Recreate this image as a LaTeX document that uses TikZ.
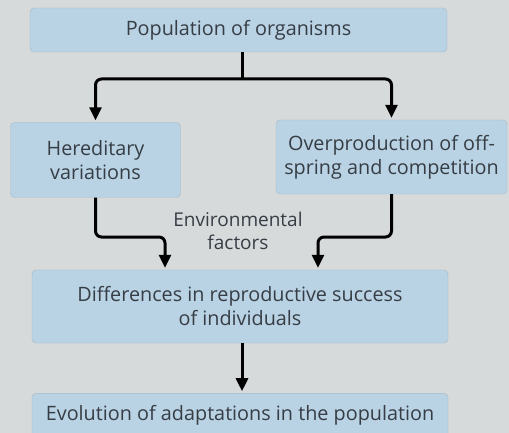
\documentclass[tikz,border=0pt]{standalone}
\usepackage{fontspec}
\setmainfont{Open Sans}
\usetikzlibrary{arrows.meta, positioning}
\definecolor{paper}{HTML}{D7DADB}
\definecolor{boxblue}{HTML}{B9D3E4}
\definecolor{boxedge}{HTML}{A4B8C6}
\definecolor{inkgrey}{HTML}{363D45}

\begin{document}
\begin{tikzpicture}[
    x=1pt, y=-1pt,
    node distance=50pt,
    box/.style={rectangle, draw=boxedge, fill=boxblue, rounded corners=4pt, text=inkgrey, align=center, font=\fontsize{19.8}{24}\selectfont},
    arrow/.style={-{Triangle[length=13pt, width=12pt]}, line width=3pt, rounded corners=6pt, shorten >=2pt}
]

% Background
\useasboundingbox (0,0) rectangle (509,433);
\fill[paper] (0,0) rectangle (509,433);

% Top
\node[box, minimum width=417pt, minimum height=44pt] (population) at (238.5,30) {Population of organisms};

% Middle row
\node[box, minimum width=170pt, minimum height=75pt] (hereditary) at (95.5,160) {Hereditary\\variations};
\node[box, minimum width=231pt, minimum height=74pt] (overproduction) at (391.5,157) {Overproduction of off-\\spring and competition};

\node[text=inkgrey, align=center, font=\fontsize{19}{23}\selectfont] (environment) at (238,231) {Environmental\\factors};

% Bottom
\node[box, minimum width=416pt, minimum height=73pt] (differences) at (240,306.5) {Differences in reproductive success\\of individuals};
\node[box, minimum width=416pt, minimum height=44pt, below=50pt of differences] (evolution) {Evolution of adaptations in the population};

% Arrows
\coordinate (split) at (242,79);
\coordinate (leftbend) at (165,237);
\coordinate (rightbend) at (318,237);
\draw[line width=3pt] (population.south -| split) -- (split);
\draw[arrow] (split) -| (hereditary.north);
\draw[arrow] (split) -| (overproduction.north);
\draw[arrow] (hereditary.south) |- (leftbend) -- (leftbend |- differences.north);
\draw[arrow] (overproduction.south) |- (rightbend) -- (rightbend |- differences.north);
\draw[arrow, rounded corners=0pt] (differences.south -| split) -- (evolution.north -| split);

\end{tikzpicture}
\end{document}
